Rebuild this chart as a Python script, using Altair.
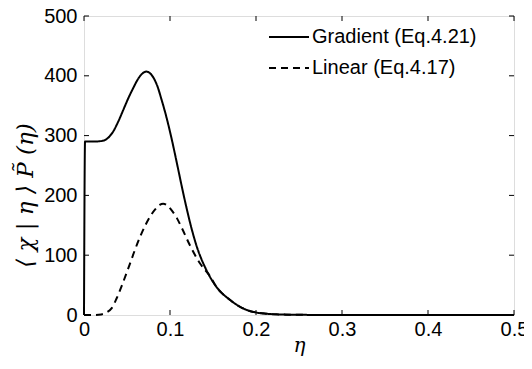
import altair as alt
import pandas as pd

# Gradient (Eq.4.21) curve
grad_x = [0, 0.0012, 0.01, 0.0206, 0.027, 0.034, 0.04, 0.0457, 0.052, 0.0574,
          0.063, 0.068, 0.0725, 0.077, 0.0815, 0.0855, 0.09, 0.096, 0.102, 0.108,
          0.114, 0.1194, 0.125, 0.131, 0.1407, 0.154, 0.170, 0.185, 0.201, 0.215,
          0.23, 0.25, 0.28, 0.32, 0.4, 0.5]
grad_y = [0, 290, 290, 291, 295, 307, 324, 343, 364, 380,
          395, 404, 407, 404, 395, 382, 361, 330, 294, 254,
          213, 178, 145, 115, 80, 47, 25, 11, 4, 1.8,
          0.8, 0.3, 0.1, 0, 0, 0]

# Linear (Eq.4.17) curve
lin_x = [0, 0.01, 0.02, 0.026, 0.032, 0.038, 0.045, 0.052, 0.059, 0.065,
         0.071, 0.077, 0.083, 0.088, 0.092, 0.097, 0.102, 0.108, 0.1136, 0.123,
         0.135, 0.1465, 0.154, 0.170, 0.185, 0.201, 0.215, 0.23, 0.25, 0.28,
         0.32, 0.4, 0.5]
lin_y = [0, 0, 1, 4, 11, 28, 53, 80, 108, 130,
         149, 165, 177, 184, 186, 183, 175, 162, 146, 117,
         86, 65, 47, 25, 11, 4, 1.8, 0.8, 0.3, 0.1,
         0, 0, 0]

series_names = ["Gradient (Eq.4.21)", "Linear (Eq.4.17)"]
x_ticks = [0, 0.1, 0.2, 0.3, 0.4, 0.5]
y_ticks = [0, 100, 200, 300, 400, 500]

W, H = 430, 299
FONT = "Liberation Sans"

df = pd.concat([
    pd.DataFrame({"eta": grad_x, "val": grad_y, "series": series_names[0], "order": range(len(grad_x))}),
    pd.DataFrame({"eta": lin_x, "val": lin_y, "series": series_names[1], "order": range(len(lin_x))}),
])
xt = pd.DataFrame({"t": x_ticks})
yt = pd.DataFrame({"t": y_ticks})

xscale = alt.Scale(domain=[0, 0.5], nice=False, zero=False)
yscale = alt.Scale(domain=[0, 500], nice=False, zero=False)

lines = alt.Chart(df).mark_line(color="black", strokeWidth=2, interpolate="monotone").encode(
    x=alt.X("eta:Q", scale=xscale,
            axis=alt.Axis(values=x_ticks, title="η", titleFont="DejaVu Serif",
                          titleFontStyle="italic", titleFontWeight="normal",
                          titleFontSize=20, titleY=30, titleBaseline="middle",
                          labelFont=FONT, labelFontSize=20, labelColor="black",
                          labelPadding=4, labelFlush=False, ticks=False, tickSize=0,
                          domain=False, grid=False, format="~g")),
    y=alt.Y("val:Q", scale=yscale,
            axis=alt.Axis(values=y_ticks, title="⟨ χ | η ⟩  P̃ (η)", titleFont="DejaVu Serif",
                          titleFontStyle="italic", titleFontWeight="normal",
                          titleFontSize=23, titleX=-59, titleY=179, titleAngle=270,
                          titleAlign="center", titleBaseline="middle",
                          labelFont=FONT, labelFontSize=20, labelColor="black",
                          labelPadding=7, labelFlush=False, ticks=False, tickSize=0,
                          domain=False, grid=False)),
    strokeDash=alt.StrokeDash("series:N",
                              scale=alt.Scale(domain=series_names, range=[[1, 0], [7, 5]]),
                              legend=alt.Legend(orient="none", legendX=184, legendY=0,
                                                title=None, symbolType="stroke",
                                                symbolSize=1600, symbolStrokeWidth=2,
                                                symbolStrokeColor="black",
                                                labelFont=FONT, labelFontSize=20,
                                                labelColor="black", labelOffset=2,
                                                labelLimit=400,
                                                padding=0, rowPadding=-16)),
    order="order:Q",
)

tick_len = 5
bottom_ticks = alt.Chart(xt).mark_rule(color="black", strokeWidth=1).encode(
    x=alt.X("t:Q", scale=xscale), y=alt.value(H), y2=alt.value(H - tick_len))
top_ticks = alt.Chart(xt).mark_rule(color="black", strokeWidth=1).encode(
    x=alt.X("t:Q", scale=xscale), y=alt.value(0), y2=alt.value(tick_len))
left_ticks = alt.Chart(yt).mark_rule(color="black", strokeWidth=1).encode(
    y=alt.Y("t:Q", scale=yscale), x=alt.value(0), x2=alt.value(tick_len))
right_ticks = alt.Chart(yt).mark_rule(color="black", strokeWidth=1).encode(
    y=alt.Y("t:Q", scale=yscale), x=alt.value(W), x2=alt.value(W - tick_len))

chart = alt.layer(bottom_ticks, top_ticks, left_ticks, right_ticks, lines).properties(
    width=W, height=H,
    autosize=alt.AutoSizeParams(type="none"),
    padding={"left": 76, "top": 8, "right": 10, "bottom": 46},
).configure_view(stroke="black", strokeWidth=1.5).configure(background="white")

chart.save("out.html", embed_options={"renderer": "svg", "actions": False})
